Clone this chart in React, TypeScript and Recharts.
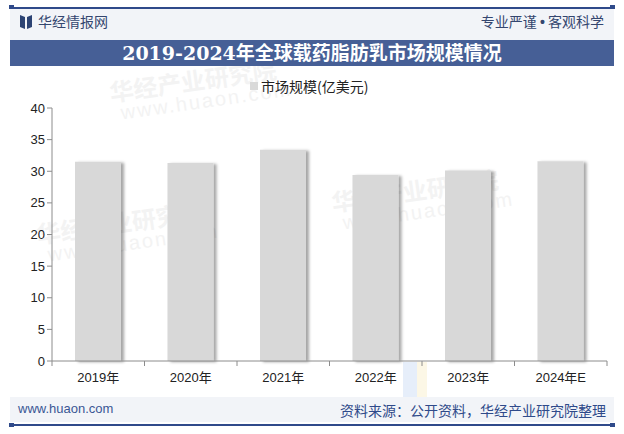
import React from 'react';
import { BarChart, Bar, XAxis, YAxis } from 'recharts';

const years = ['2019年', '2020年', '2021年', '2022年', '2023年', '2024年E'];
const marketSize = [31.5, 31.3, 33.4, 29.4, 30.1, 31.6];
const yTicks = [0, 5, 10, 15, 20, 25, 30, 35, 40];

const data = years.map((year, i) => ({ year, value: marketSize[i] }));

const BLUE = '#2f4a8a';
const AXIS = '#8c8c8c';

// category tick: label plus a boundary mark on the left edge of each band
const YearTick = (props: any) => {
  const { x, y, payload, index, visibleTicksCount } = props;
  const band = 555 / 6;
  return (
    <g>
      <line x1={x - band / 2} y1={y - 8} x2={x - band / 2} y2={y - 3} stroke={AXIS} />
      {index === visibleTicksCount - 1 && (
        <line x1={x + band / 2} y1={y - 8} x2={x + band / 2} y2={y - 3} stroke={AXIS} />
      )}
      <text x={x} y={y + 13} textAnchor="middle" fill="#222" fontSize={13} fontFamily="Liberation Sans, Noto Sans CJK SC, sans-serif">
        {payload.value}
      </text>
    </g>
  );
};

const Cap = ({ x, y }: { x: number; y: number }) => (
  <div style={{ position: 'absolute', left: x, top: y, width: 5, height: 4, background: BLUE }} />
);

// faint tilted watermark
const Mark = ({ x, y }: { x: number; y: number }) => (
  <div style={{ position: 'absolute', left: x, top: y, transform: 'rotate(-8deg)', transformOrigin: 'left top', color: '#f3f3f3', lineHeight: 1 }}>
    <div style={{ fontSize: 24, fontWeight: 'bold' }}>华经产业研究院</div>
    <div style={{ fontSize: 20, letterSpacing: 2, marginLeft: 8, fontFamily: 'Liberation Sans, sans-serif' }}>www.huaon.com</div>
  </div>
);

export default function App() {
  return (
    <div style={{ position: 'fixed', left: 0, top: 0, width: 624, height: 434, background: '#fff', overflow: 'hidden', fontFamily: '"Noto Sans CJK SC", sans-serif' }}>
      {/* watermarks */}
      <Mark x={108} y={80} />
      <Mark x={35} y={222} />
      <Mark x={330} y={190} />
      <div style={{ position: 'absolute', left: 403, top: 362, width: 14, height: 35, background: '#e6eefa' }} />
      <div style={{ position: 'absolute', left: 417, top: 362, width: 10, height: 35, background: '#fcf7e6' }} />
      {/* top rule */}
      <div style={{ position: 'absolute', left: 10, top: 7, width: 604, height: 1.5, background: BLUE }} />
      <Cap x={9} y={5} />
      <Cap x={610} y={5} />
      {/* header band */}
      <div style={{ position: 'absolute', left: 10, top: 9, width: 604, height: 31, background: '#f2f4f8' }} />
      <svg style={{ position: 'absolute', left: 20, top: 15 }} width={12} height={14}>
        <polygon points="0,0 5,2 5,14 0,12" fill="#2c4373" />
        <polygon points="12,0 7,2 7,14 12,12" fill="#2c4373" />
      </svg>
      <div style={{ position: 'absolute', left: 38, top: 11, fontSize: 14, color: '#34466f' }}>华经情报网</div>
      <div style={{ position: 'absolute', right: 20, top: 11, fontSize: 14, color: '#34466f' }}>
        专业严谨 <b style={{ fontFamily: 'Liberation Sans, sans-serif' }}>•</b> 客观科学
      </div>
      {/* title band */}
      <div style={{ position: 'absolute', left: 10, top: 40, width: 604, height: 26, background: '#465f96', color: '#fff', textAlign: 'center', fontSize: 19, lineHeight: '26px', fontWeight: 'bold', fontFamily: '"DejaVu Serif", "Noto Sans CJK SC", serif' }}>
        2019-2024年全球载药脂肪乳市场规模情况
      </div>
      {/* legend */}
      <div style={{ position: 'absolute', left: 250, top: 76, fontSize: 14, color: '#222', display: 'flex', alignItems: 'center' }}>
        <span style={{ display: 'inline-block', width: 8, height: 8, background: '#d9d9d9', marginRight: 3 }} />
        市场规模(亿美元)
      </div>
      <div style={{ position: 'absolute', left: 0, top: 66 }}>
        <BarChart width={624} height={331} data={data} margin={{ top: 42, right: 17, left: 12, bottom: 6 }}>
          <defs>
            <filter id="barShadow" x="-20%" y="-10%" width="150%" height="130%">
              <feDropShadow dx={3} dy={1} stdDeviation={1.5} floodColor="#000" floodOpacity={0.35} />
            </filter>
          </defs>
          <XAxis
            dataKey="year"
            height={30}
            interval={0}
            axisLine={{ stroke: AXIS }}
            tickLine={false}
            tick={<YearTick />}
          />
          <YAxis
            width={40}
            domain={[0, 40]}
            ticks={yTicks}
            interval={0}
            axisLine={{ stroke: AXIS }}
            tickLine={{ stroke: AXIS }}
            tickSize={5}
            tick={{ fill: '#222', fontSize: 13, fontFamily: 'Liberation Sans, sans-serif' }}
          />
          <Bar dataKey="value" fill="#d8d8d8" barSize={46} filter="url(#barShadow)" isAnimationActive={false} />
        </BarChart>
      </div>
      {/* footer band */}
      <div style={{ position: 'absolute', left: 10, top: 397, width: 604, height: 25, background: '#f2f4f8' }} />
      <div style={{ position: 'absolute', left: 18, top: 401, fontSize: 13, color: '#3a5795', fontFamily: 'Liberation Sans, sans-serif' }}>www.huaon.com</div>
      <div style={{ position: 'absolute', right: 18, top: 400, fontSize: 14, color: '#2f4a8a' }}>资料来源：公开资料，华经产业研究院整理</div>
      <div style={{ position: 'absolute', left: 10, top: 424, width: 604, height: 1.5, background: BLUE }} />
      <Cap x={9} y={423} />
      <Cap x={610} y={423} />
    </div>
  );
}
